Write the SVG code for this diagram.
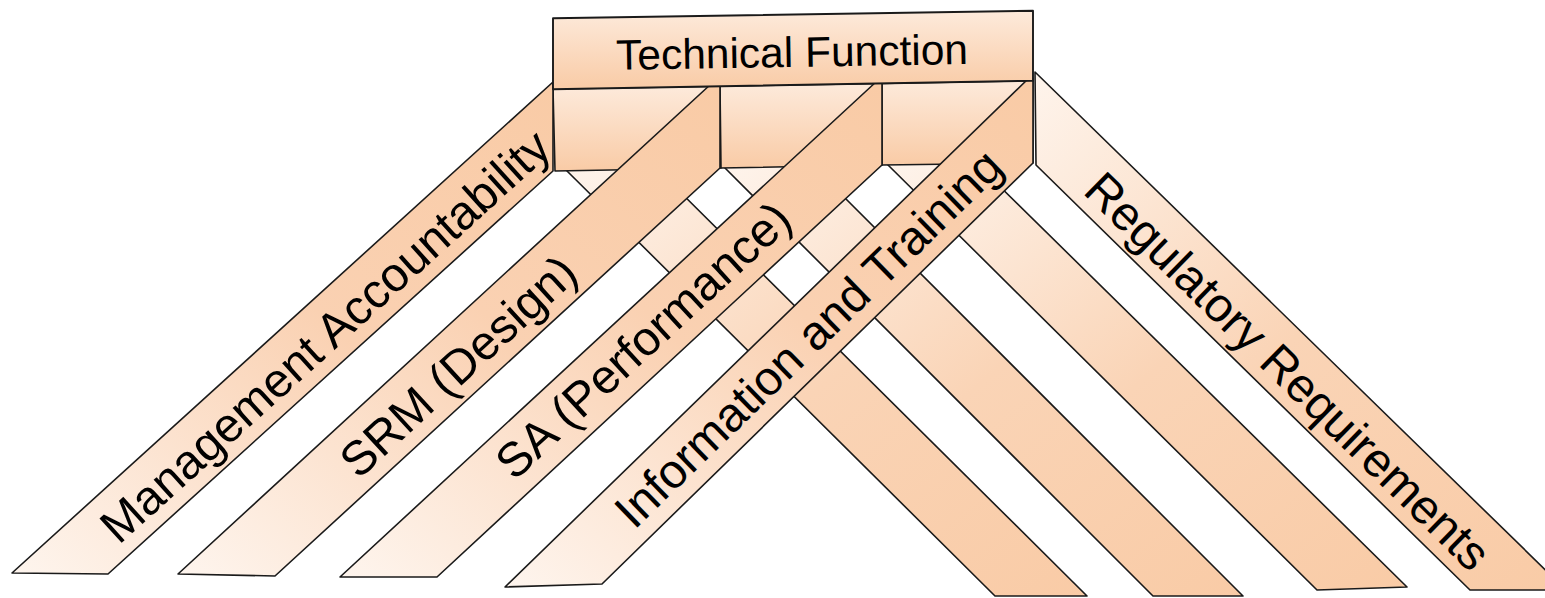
<svg xmlns="http://www.w3.org/2000/svg" width="1545" height="598" viewBox="0 0 1545 598">
<defs>
<linearGradient id="gL" x1="1" y1="0" x2="0" y2="1"><stop offset="0" stop-color="#F9CBA6"/><stop offset="0.45" stop-color="#FAD1B2"/><stop offset="1" stop-color="#FEF5EE"/></linearGradient>
<linearGradient id="gR" x1="0" y1="0" x2="1" y2="1"><stop offset="0" stop-color="#FEF4EC"/><stop offset="0.5" stop-color="#FAD4B6"/><stop offset="1" stop-color="#F9CBA6"/></linearGradient>
<linearGradient id="gV" x1="0" y1="0" x2="0" y2="1"><stop offset="0" stop-color="#FDEADB"/><stop offset="1" stop-color="#F9CBA6"/></linearGradient>
<style>
.s{stroke:#1a1a1a;stroke-width:1.6;stroke-linejoin:round}
.l{fill:url(#gL)}
.r{fill:url(#gR)}
.v{fill:url(#gV)}
.t{font-family:"Liberation Sans",Arial,sans-serif;font-size:48px;fill:#000;text-anchor:middle}
.tt{font-family:"Liberation Sans",Arial,sans-serif;font-size:42.5px;fill:#000;text-anchor:middle}
</style>
</defs>
<rect width="1545" height="598" fill="#fff"/>
<g id="strip-r1"><polygon class="s r" points="564,168 656,168 1087,596 995,596"/></g>
<g id="strip-r2"><polygon class="s r" points="723,166 813,166 1243,596 1153,596"/></g>
<g id="strip-r3"><polygon class="s r" points="886,163 976,163 1407,587 1317,590"/></g>
<g id="regulatory-requirements">
<polygon class="s r" points="1035,72 1566,590 1470,590 1036,165"/>
<text class="t" transform="translate(1288,371) rotate(44.4)" dy="0.35em">Regulatory Requirements</text>
</g>
<g id="pillar-1"><polygon class="s v" points="553,89 720,86.3 721,168 555,171"/></g>
<g id="pillar-2"><polygon class="s v" points="720,86.3 882,83.4 882,165 721,168"/></g>
<g id="pillar-3"><polygon class="s v" points="882,83.4 1033,80.7 1033,163 882,165"/></g>
<g id="management-accountability">
<polygon class="s l" points="553,82 553,171 108,574 12,573"/>
<text class="t" transform="translate(325,336) rotate(-42.2)" dy="0.35em">Management Accountability</text>
</g>
<g id="srm-design">
<polygon class="s l" points="711,84 720,84 720,168 275,576 178,574"/>
<text class="t" transform="translate(458,366) rotate(-42.6)" dy="0.35em">SRM (Design)</text>
</g>
<g id="sa-performance">
<polygon class="s l" points="877,81 882,81 882,165 437,577 340,577"/>
<text class="t" transform="translate(643,340) rotate(-42.7)" dy="0.35em">SA (Performance)</text>
</g>
<g id="information-and-training">
<polygon class="s l" points="1029,78 1033,78 1033,163 602,584 505,587"/>
<text class="t" transform="translate(808,338) rotate(-44.2)" dy="0.35em">Information and Training</text>
</g>
<g id="technical-function">
<polygon class="s v" points="553,18.3 1033,10.7 1033,80.7 553,89.3" style="stroke-width:1.9"/>
<text class="tt" transform="translate(792,52) rotate(-0.95)" dy="0.35em">Technical Function</text>
</g>
<g id="connectors"/>
</svg>
